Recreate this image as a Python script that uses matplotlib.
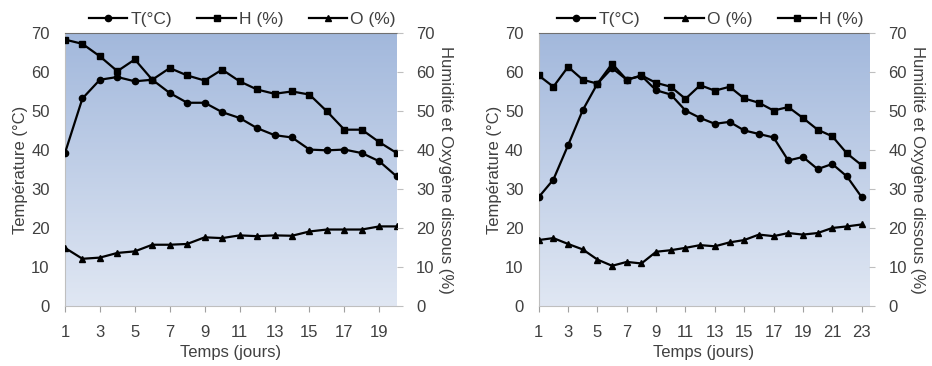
import numpy as np
import matplotlib
matplotlib.use("Agg")
import matplotlib.pyplot as plt
from matplotlib.colors import LinearSegmentedColormap

plt.rcParams['font.family'] = ['Liberation Sans', 'DejaVu Sans']

# Left chart data (20 days)
days_a = list(range(1, 21))
temp_a = [39.2, 53.2, 58.0, 58.7, 57.6, 58.0, 54.6, 52.1, 52.1, 49.7,
          48.2, 45.6, 43.8, 43.2, 40.1, 39.9, 40.1, 39.2, 37.1, 33.2]
hum_a = [68.3, 67.2, 64.0, 60.2, 63.2, 58.0, 61.0, 59.1, 57.8, 60.6,
         57.6, 55.5, 54.4, 55.0, 54.2, 49.9, 45.2, 45.2, 42.0, 39.2]
oxy_a = [14.9, 12.1, 12.4, 13.6, 14.0, 15.7, 15.7, 15.9, 17.6, 17.4,
         18.1, 17.9, 18.1, 18.0, 19.1, 19.6, 19.6, 19.6, 20.4, 20.4]

# Right chart data (23 days)
days_b = list(range(1, 24))
temp_b = [27.9, 32.4, 41.2, 50.2, 57.0, 61.0, 58.0, 59.0, 55.3, 54.2, 50.1, 48.2,
          46.7, 47.2, 45.0, 44.1, 43.2, 37.3, 38.2, 35.1, 36.4, 33.2, 27.9]
hum_b = [59.1, 56.2, 61.3, 58.0, 57.0, 62.1, 58.0, 59.1, 57.2, 56.2, 53.1, 56.6,
         55.2, 56.2, 53.2, 52.1, 50.1, 51.0, 48.2, 45.2, 43.5, 39.1, 36.1]
oxy_b = [16.9, 17.4, 15.9, 14.5, 11.9, 10.3, 11.3, 10.9, 13.9, 14.3, 14.9, 15.6,
         15.3, 16.3, 16.9, 18.3, 17.9, 18.7, 18.3, 18.7, 20.0, 20.4, 20.9]

yticks = [0, 10, 20, 30, 40, 50, 60, 70]
grey = '#404040'
fs = 12
bg = LinearSegmentedColormap.from_list('bg', ['#e0e7f3', '#a2b8dc'])

fig = plt.figure(figsize=(9.32, 3.66), dpi=100)


def draw(rect, days, series, xmax, xticks, leg_x):
    ax = fig.add_axes(rect)
    ax.set_xlim(1, xmax)
    ax.set_ylim(0, 70)
    grad = np.linspace(0, 1, 256).reshape(-1, 1)
    ax.imshow(grad, cmap=bg, origin='lower', aspect='auto',
              extent=[0, 1, 0, 1], transform=ax.transAxes, zorder=0)
    handles = []
    for label, vals, mk in series:
        h, = ax.plot(days, vals, color='black', lw=1.6, marker=mk,
                     markersize=4.5, zorder=3, label=label)
        handles.append(h)
    ax.set_xticks(xticks)
    ax.set_yticks(yticks)
    ax.tick_params(axis='x', colors='#a0a0a0', labelcolor=grey, labelsize=fs,
                   length=4, pad=10)
    ax.tick_params(axis='y', length=0, labelcolor=grey, labelsize=fs, pad=11)
    for s in ['left', 'bottom']:
        ax.spines[s].set_color('#bfbfbf')
    ax.spines['top'].set_color('#707070')
    ax.spines['right'].set_visible(False)
    ax.set_xlabel('Temps (jours)', fontsize=fs, color=grey, labelpad=3)
    ax.set_ylabel('Température (°C)', fontsize=fs, color=grey, labelpad=2)

    ax2 = ax.twinx()
    ax2.set_ylim(0, 70)
    ax2.set_yticks(yticks)
    ax2.tick_params(axis='y', colors='#bfbfbf', labelcolor=grey, labelsize=fs,
                    length=4, pad=10)
    for s in ax2.spines.values():
        s.set_visible(False)
    ax2.set_ylabel('Humidité et Oxygène dissous (%)', fontsize=fs, color=grey,
                   rotation=270, labelpad=13)

    ax.legend(handles=handles, loc='lower center', bbox_to_anchor=(leg_x, 0.985),
              ncol=3, frameon=False, fontsize=12.5, handlelength=2.2,
              columnspacing=1.45, handletextpad=0.2, labelcolor=grey, borderpad=0.1)
    return ax


draw([0.0697, 0.164, 0.356, 0.746], days_a,
     [('T(°C)', temp_a, 'o'), ('H (%)', hum_a, 's'), ('O (%)', oxy_a, '^')],
     20, list(range(1, 21, 2)), 0.535)
draw([0.578, 0.164, 0.3544, 0.746], days_b,
     [('T(°C)', temp_b, 'o'), ('O (%)', oxy_b, '^'), ('H (%)', hum_b, 's')],
     23.5, list(range(1, 24, 2)), 0.52)

fig.savefig('out.png', dpi=100)
